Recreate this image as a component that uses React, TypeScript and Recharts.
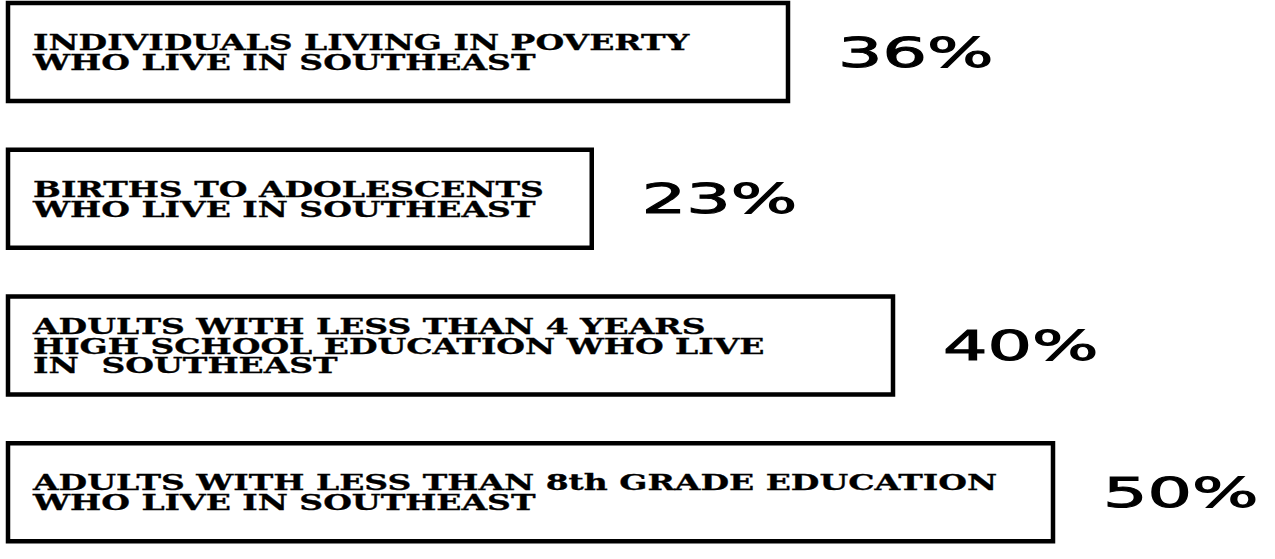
import React from 'react';
import { BarChart, Bar, XAxis, YAxis, LabelList } from 'recharts';

// Category captions (line breaks as in the picture)
const categories: string[] = [
  'INDIVIDUALS LIVING IN POVERTY\nWHO LIVE IN SOUTHEAST',
  'BIRTHS TO ADOLESCENTS\nWHO LIVE IN SOUTHEAST',
  'ADULTS WITH LESS THAN 4 YEARS\nHIGH SCHOOL EDUCATION WHO LIVE\nIN  SOUTHEAST',
  'ADULTS WITH LESS THAN 8th GRADE EDUCATION\nWHO LIVE IN SOUTHEAST',
];

// Length of each framed box (axis units 0-100)
const boxLengths: number[] = [62.4, 46.7, 70.8, 83.6];

// Percent shown to the right of each box
const percentValues: number[] = [36, 23, 40, 50];

const data = categories.map((category, i) => ({
  category,
  length: boxLengths[i],
  pct: percentValues[i],
}));

const BOX_STROKE = 4.5;
const TEXT_SIZE = 22;
const TEXT_CAP = 16;
const TEXT_STRETCH = 1.5;
const LINE_PITCH = 20;
const PCT_SIZE = 40;
const PCT_STRETCH = 1.75;
const PCT_GAP = 50;

const BoxShape = (props: any) => {
  const { x, y, width, height, payload } = props;
  const lines: string[] = String(payload.category).split('\n');
  const cy = y + height / 2;
  const blockH = (lines.length - 1) * LINE_PITCH + TEXT_CAP;
  const firstBaseline = cy - blockH / 2 + TEXT_CAP;
  return (
    <g>
      <rect
        x={x}
        y={y}
        width={width}
        height={height}
        fill="#ffffff"
        stroke="#000000"
        strokeWidth={BOX_STROKE}
      />
      <text
        transform={`translate(${x + 25},${firstBaseline}) scale(${TEXT_STRETCH},1)`}
        x={0}
        y={0}
        fontFamily="'DejaVu Serif', serif"
        fontWeight="bold"
        fontSize={TEXT_SIZE}
        fill="#000000"
        stroke="#000000"
        strokeWidth={0.3}
        style={{ whiteSpace: 'pre' }}
      >
        {lines.map((ln, i) => (
          <tspan key={i} x={0} dy={i === 0 ? 0 : LINE_PITCH}>
            {ln}
          </tspan>
        ))}
      </text>
    </g>
  );
};

const PctLabel = (props: any) => {
  const { x, y, width, height, value } = props;
  const tx = Number(x) + Number(width) + PCT_GAP;
  const ty = Number(y) + Number(height) / 2 + 14.5;
  return (
    <text
      transform={`translate(${tx},${ty}) scale(${PCT_STRETCH},1)`}
      x={0}
      y={0}
      fontFamily="'DejaVu Sans', sans-serif"
      fontSize={PCT_SIZE}
      fill="#000000"
      stroke="#000000"
      strokeWidth={1}
    >
      {`${value}%`}
    </text>
  );
};

export default function App() {
  return (
    <div style={{ width: 1275, height: 559, background: '#ffffff', overflow: 'hidden' }}>
      <style>{'body{margin:0;background:#ffffff;}'}</style>
      <BarChart
        width={1275}
        height={559}
        data={data}
        layout="vertical"
        margin={{ top: -21, right: 17, bottom: -7, left: 8 }}
        barSize={98}
      >
        <XAxis type="number" domain={[0, 100]} hide />
        <YAxis type="category" dataKey="category" hide />
        <Bar dataKey="length" shape={<BoxShape />} isAnimationActive={false}>
          <LabelList dataKey="pct" content={<PctLabel />} />
        </Bar>
      </BarChart>
    </div>
  );
}
